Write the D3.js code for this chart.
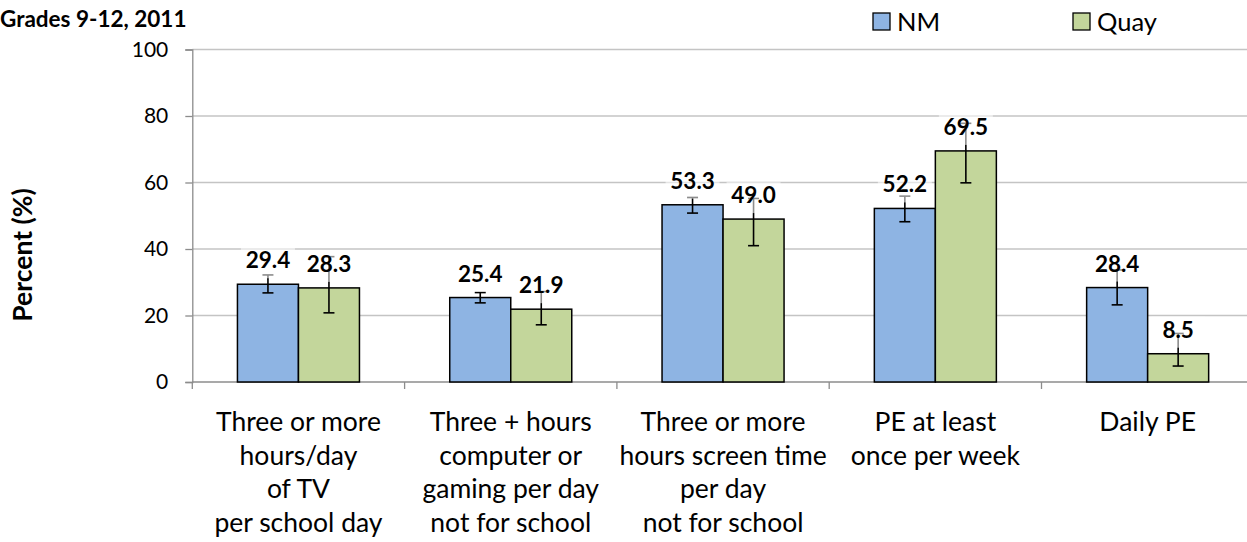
<!DOCTYPE html>
<html>
<head>
<meta charset="utf-8">
<script src="https://cdn.jsdelivr.net/npm/d3@7"></script>
<style>
  html, body { margin: 0; padding: 0; background: #fff; }
  svg { display: block; }
  text { font-family: Lato, "Open Sans", sans-serif; fill: #000; }
</style>
</head>
<body>
<svg id="chart" width="1247" height="542"></svg>
<script>
// ---- data ----
const categories = [
  ["Three or more", "hours/day", "of TV", "per school day"],
  ["Three + hours", "computer or", "gaming per day", "not for school"],
  ["Three or more", "hours screen time", "per day", "not for school"],
  ["PE at least", "once per week"],
  ["Daily PE"]
];
const seriesNames = ["NM", "Quay"];
const nmValues   = [29.4, 25.4, 53.3, 52.2, 28.4];
const quayValues = [28.3, 21.9, 49.0, 69.5, 8.5];
const nmLow   = [26.8, 23.8, 50.8, 48.2, 23.2];
const nmHigh  = [32.2, 26.9, 55.5, 55.9, 33.7];
const quayLow  = [20.8, 17.2, 41.0, 59.9, 4.8];
const quayHigh = [37.7, 27.2, 55.2, 77.8, 14.6];
const yTicks = [0, 20, 40, 60, 80, 100];
const titleText = "Grades 9-12, 2011";
const yTitle = "Percent (%)";

const colors = { NM: "#8EB4E3", Quay: "#C3D69B" };

const svg = d3.select("#chart");
const plotLeft = 192.3, catStep = 212.3, plotBottom = 382, plotTop = 49.5;
const catIds = categories.map((c, i) => i);

const x = d3.scaleBand().domain(catIds).range([plotLeft, plotLeft + catStep * categories.length]).padding(0);
const xs = d3.scaleBand().domain(seriesNames).range([0, x.bandwidth()]).paddingInner(0).paddingOuter(0.74);
const y = d3.scaleLinear().domain([0, 100]).range([plotBottom, plotTop]);

// gridlines
svg.append("g").selectAll("line").data(yTicks.filter(t => t > 0)).join("line")
  .attr("x1", plotLeft).attr("x2", 1247)
  .attr("y1", d => y(d)).attr("y2", d => y(d))
  .attr("stroke", "#c4c4c4").attr("stroke-width", 1.3);

// y axis
const yAxis = d3.axisLeft(y).tickValues(yTicks).tickSize(7).tickPadding(17).tickFormat(d3.format("d"));
const gy = svg.append("g").attr("transform", `translate(${plotLeft},0)`).call(yAxis);
gy.select(".domain").attr("stroke", "#8c8c8c").attr("stroke-width", 1.3);
gy.selectAll(".tick line").attr("stroke", "#8c8c8c").attr("stroke-width", 1.3);
gy.selectAll(".tick text").style("font-size", "21px").attr("fill", "#000");

// x axis baseline + ticks at category boundaries
const boundaries = d3.range(categories.length + 1).map(i => plotLeft + i * catStep);
svg.append("line").attr("x1", plotLeft).attr("x2", 1247).attr("y1", plotBottom).attr("y2", plotBottom)
  .attr("stroke", "#8c8c8c").attr("stroke-width", 1.3);
svg.append("g").selectAll("line").data(boundaries).join("line")
  .attr("x1", d => d).attr("x2", d => d).attr("y1", plotBottom).attr("y2", plotBottom + 7)
  .attr("stroke", "#8c8c8c").attr("stroke-width", 1.3);

// category labels
const catG = svg.append("g");
categories.forEach((lines, i) => {
  const t = catG.append("text").attr("text-anchor", "middle").style("font-size", "26.5px");
  lines.forEach((ln, j) => {
    t.append("tspan").attr("x", x(i) + x.bandwidth() / 2).attr("y", 431 + j * 33.7).text(ln);
  });
});

// bars data
const rows = [];
catIds.forEach(i => {
  rows.push({ cat: i, s: "NM", v: nmValues[i], lo: nmLow[i], hi: nmHigh[i] });
  rows.push({ cat: i, s: "Quay", v: quayValues[i], lo: quayLow[i], hi: quayHigh[i] });
});

svg.append("g").selectAll("rect").data(rows).join("rect")
  .attr("x", d => x(d.cat) + xs(d.s))
  .attr("y", d => y(d.v))
  .attr("width", xs.bandwidth())
  .attr("height", d => y(0) - y(d.v))
  .attr("fill", d => colors[d.s])
  .attr("stroke", "#000").attr("stroke-width", 1.5);

// error bars
const eg = svg.append("g").attr("stroke", "#000").attr("stroke-width", 1.6);
rows.forEach(d => {
  const cx = x(d.cat) + xs(d.s) + xs.bandwidth() / 2;
  eg.append("line").attr("x1", cx).attr("x2", cx).attr("y1", y(d.lo)).attr("y2", y(d.hi));
  eg.append("line").attr("x1", cx - 5.5).attr("x2", cx + 5.5).attr("y1", y(d.lo)).attr("y2", y(d.lo));
  eg.append("line").attr("x1", cx - 5.5).attr("x2", cx + 5.5).attr("y1", y(d.hi)).attr("y2", y(d.hi));
});

// data labels with translucent background
const lg = svg.append("g");
rows.forEach(d => {
  const cx = x(d.cat) + xs(d.s) + xs.bandwidth() / 2;
  const top = y(d.v);
  lg.append("rect").attr("x", cx - 27).attr("y", top - 37).attr("width", 54).attr("height", 31)
    .attr("fill", "#fff").attr("fill-opacity", 0.55);
  lg.append("text").attr("x", cx).attr("y", top - 16).attr("text-anchor", "middle")
    .style("font-size", "22.5px").style("font-weight", "bold").text(d.v.toFixed(1));
});

// y axis title
svg.append("text").attr("transform", "translate(32,255) rotate(-90)").attr("text-anchor", "middle")
  .style("font-size", "26.5px").style("font-weight", "bold").text(yTitle);

// chart title
svg.append("text").attr("x", 0).attr("y", 27).style("font-size", "22.5px").style("font-weight", "bold").text(titleText);

// legend
const legendX = [873, 1073];
const leg = svg.append("g");
seriesNames.forEach((s, i) => {
  leg.append("rect").attr("x", legendX[i]).attr("y", 13).attr("width", 17).attr("height", 17)
    .attr("fill", colors[s]).attr("stroke", "#000").attr("stroke-width", 1.3);
  leg.append("text").attr("x", legendX[i] + 24).attr("y", 30.5).style("font-size", "25.5px").text(s);
});
</script>
</body>
</html>
